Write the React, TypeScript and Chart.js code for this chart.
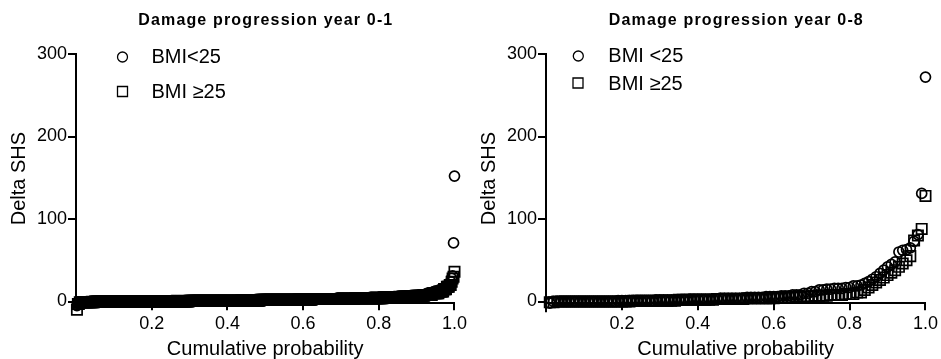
import React, { useEffect, useRef } from "react";
import { Chart, registerables } from "chart.js";

Chart.register(...registerables);

// ---------- text ----------
const panelTitles = ["Damage progression year 0-1", "Damage progression year 0-8"];
const legendLabels01 = ["BMI<25", "BMI \u226525"];
const legendLabels08 = ["BMI <25", "BMI \u226525"];
const yAxisTitle = "Delta SHS";
const xAxisTitle = "Cumulative probability";
const yTickValues = [0, 100, 200, 300];
const xTickValues = [0.2, 0.4, 0.6, 0.8, 1.0];

// ---------- data (sorted Delta SHS values with their frequencies) ----------
// Year 0-1, BMI<25
const y01LowValues = [-5, -2, -1, 0, 1, 2, 3, 4, 5, 6, 7, 8, 10, 12, 14, 16, 18, 20, 24, 28, 31, 71, 152];
const y01LowCounts = [1, 3, 6, 90, 70, 60, 45, 35, 25, 15, 12, 8, 7, 6, 5, 3, 2, 2, 1, 1, 1, 1, 1];
// Year 0-1, BMI>=25
const y01HighValues = [-10, -3, -1, 0, 1, 2, 3, 4, 5, 6, 7, 8, 10, 12, 15, 18, 20, 24, 28, 30, 36];
const y01HighCounts = [1, 2, 16, 100, 75, 55, 45, 30, 20, 14, 10, 8, 7, 5, 3, 3, 2, 1, 1, 1, 1];
// Year 0-8, BMI<25
const y08LowValues = [-2, 0, 1, 2, 3, 4, 5, 6, 7, 8, 10, 12, 14, 15, 16, 17, 19, 20, 22, 24, 27, 30, 34, 38, 42, 45, 48, 60, 62, 63, 65, 73, 81, 131, 272];
const y08LowCounts = [1, 17, 10, 9, 8, 7, 5, 4, 3, 3, 2, 2, 2, 2, 3, 2, 2, 1, 1, 1, 1, 1, 1, 1, 1, 1, 1, 1, 1, 1, 1, 1, 1, 1, 1];
// Year 0-8, BMI>=25
const y08HighValues = [-1, 0, 1, 2, 3, 4, 5, 6, 7, 8, 9, 11, 14, 17, 20, 23, 26, 29, 32, 35, 38, 42, 46, 50, 55, 74, 80, 88, 128];
const y08HighCounts = [2, 20, 12, 10, 8, 8, 5, 5, 4, 4, 3, 2, 1, 1, 1, 1, 1, 1, 1, 1, 1, 1, 1, 1, 1, 1, 1, 1, 1];

const FONT = '"Liberation Sans", Arial, Helvetica, sans-serif';

function cumulative(values: number[], counts: number[]) {
  const sorted: number[] = [];
  values.forEach((v, i) => {
    for (let k = 0; k < counts[i]; k++) sorted.push(v);
  });
  const n = sorted.length;
  return sorted.map((v, i) => ({ x: (i + 1) / n, y: v }));
}

type LegendPos = { marker: [number, number][]; textX: number; textY: number[] };

function makeOverlay(title: string, labels: string[], pos: LegendPos, axisExt: number) {
  return {
    id: "overlay",
    afterDraw(chart: any) {
      const ctx = chart.ctx as CanvasRenderingContext2D;
      const a = chart.chartArea;
      ctx.save();
      ctx.fillStyle = "#000";
      ctx.strokeStyle = "#000";
      // y axis line continues a little below the x axis
      ctx.lineWidth = 2;
      ctx.beginPath();
      ctx.moveTo(a.left, a.bottom);
      ctx.lineTo(a.left, a.bottom + axisExt);
      ctx.stroke();
      ctx.font = `bold 16px ${FONT}`;
      (ctx as any).letterSpacing = "1.15px";
      ctx.textAlign = "center";
      ctx.textBaseline = "middle";
      ctx.fillText(title, (a.left + a.right) / 2 + 0.6, 21);
      (ctx as any).letterSpacing = "0px";
      ctx.font = `20px ${FONT}`;
      ctx.textAlign = "left";
      ctx.lineWidth = 1.3;
      labels.forEach((lab, i) => {
        const [mx, my] = pos.marker[i];
        ctx.beginPath();
        if (i === 0) {
          ctx.arc(mx, my, 5, 0, Math.PI * 2);
        } else {
          ctx.rect(mx - 5, my - 5, 10, 10);
        }
        ctx.stroke();
        ctx.fillText(lab, pos.textX, pos.textY[i]);
      });
      ctx.restore();
    },
  };
}

type PanelProps = {
  left: number;
  width: number;
  title: string;
  labels: string[];
  legend: LegendPos;
  axisExt: number;
  lowValues: number[];
  lowCounts: number[];
  highValues: number[];
  highCounts: number[];
};

function Panel(p: PanelProps) {
  const ref = useRef<HTMLCanvasElement | null>(null);
  useEffect(() => {
    if (!ref.current) return;
    const H = 359;
    const chart = new Chart(ref.current, {
      type: "scatter",
      data: {
        datasets: [
          {
            label: p.labels[0],
            data: cumulative(p.lowValues, p.lowCounts),
            pointStyle: "circle",
            pointRadius: 5,
            borderColor: "#000",
            backgroundColor: "rgba(0,0,0,0)",
            borderWidth: 1.7,
            clip: false as any,
          },
          {
            label: p.labels[1],
            data: cumulative(p.highValues, p.highCounts),
            pointStyle: "rect",
            pointRadius: 7.3,
            borderColor: "#000",
            backgroundColor: "rgba(0,0,0,0)",
            borderWidth: 1.7,
            clip: false as any,
          },
        ],
      },
      options: {
        animation: false,
        responsive: false,
        devicePixelRatio: 1,
        layout: { padding: { top: 54, left: 0, right: p.width - 456, bottom: 0 } },
        plugins: {
          legend: { display: false },
          title: { display: false },
          tooltip: { enabled: false },
        },
        scales: {
          x: {
            type: "linear",
            min: 0,
            max: 1,
            afterFit: (s: any) => {
              s.height = H - 303.15;
            },
            afterBuildTicks: (s: any) => {
              s.ticks = xTickValues.map((v) => ({ value: v }));
            },
            grid: {
              display: true,
              drawOnChartArea: false,
              drawTicks: true,
              tickLength: 7,
              color: "#000",
              lineWidth: 2,
            },
            border: { display: true, color: "#000", width: 2 },
            ticks: {
              color: "#000",
              font: { family: FONT, size: 18 },
              padding: 3,
              maxRotation: 0,
              autoSkip: false,
              callback: (v: any) => Number(v).toFixed(1),
            },
            title: {
              display: true,
              text: xAxisTitle,
              color: "#000",
              font: { family: FONT, size: 20, lineHeight: 1 },
              padding: { top: 0, bottom: 0 },
            },
          },
          y: {
            type: "linear",
            min: -2,
            max: 300,
            afterFit: (s: any) => {
              s.width = 76;
            },
            afterBuildTicks: (s: any) => {
              s.ticks = yTickValues.map((v) => ({ value: v }));
            },
            grid: {
              display: true,
              drawOnChartArea: false,
              drawTicks: true,
              tickLength: 8,
              color: "#000",
              lineWidth: 2,
            },
            border: { display: true, color: "#000", width: 2 },
            ticks: {
              color: "#000",
              font: { family: FONT, size: 18 },
              padding: 1,
              autoSkip: false,
              callback: (v: any) => String(v),
            },
            title: {
              display: true,
              text: yAxisTitle,
              color: "#000",
              font: { family: FONT, size: 20, lineHeight: 1 },
              padding: { top: 9.5, bottom: 0 },
            },
          },
        },
      } as any,
      plugins: [makeOverlay(p.title, p.labels, p.legend, p.axisExt)],
    });
    return () => chart.destroy();
  }, []);
  return (
    <canvas
      ref={ref}
      width={p.width}
      height={359}
      style={{ position: "absolute", left: p.left, top: 0, width: p.width, height: 359, display: "block" }}
    />
  );
}

export default function App() {
  return (
    <div style={{ position: "absolute", left: 0, top: 0, width: 941, height: 359, background: "#fff", overflow: "hidden" }}>
      <Panel
        left={0}
        width={470}
        title={panelTitles[0]}
        labels={legendLabels01}
        legend={{ marker: [[122.5, 57], [122.5, 91.5]], textX: 151.5, textY: [57.5, 92.5] }}
        axisExt={3}
        lowValues={y01LowValues}
        lowCounts={y01LowCounts}
        highValues={y01HighValues}
        highCounts={y01HighCounts}
      />
      <Panel
        left={470}
        width={471}
        title={panelTitles[1]}
        labels={legendLabels08}
        legend={{ marker: [[108.3, 56], [108, 83]], textX: 138.3, textY: [56.8, 84.3] }}
        axisExt={9}
        lowValues={y08LowValues}
        lowCounts={y08LowCounts}
        highValues={y08HighValues}
        highCounts={y08HighCounts}
      />
    </div>
  );
}
